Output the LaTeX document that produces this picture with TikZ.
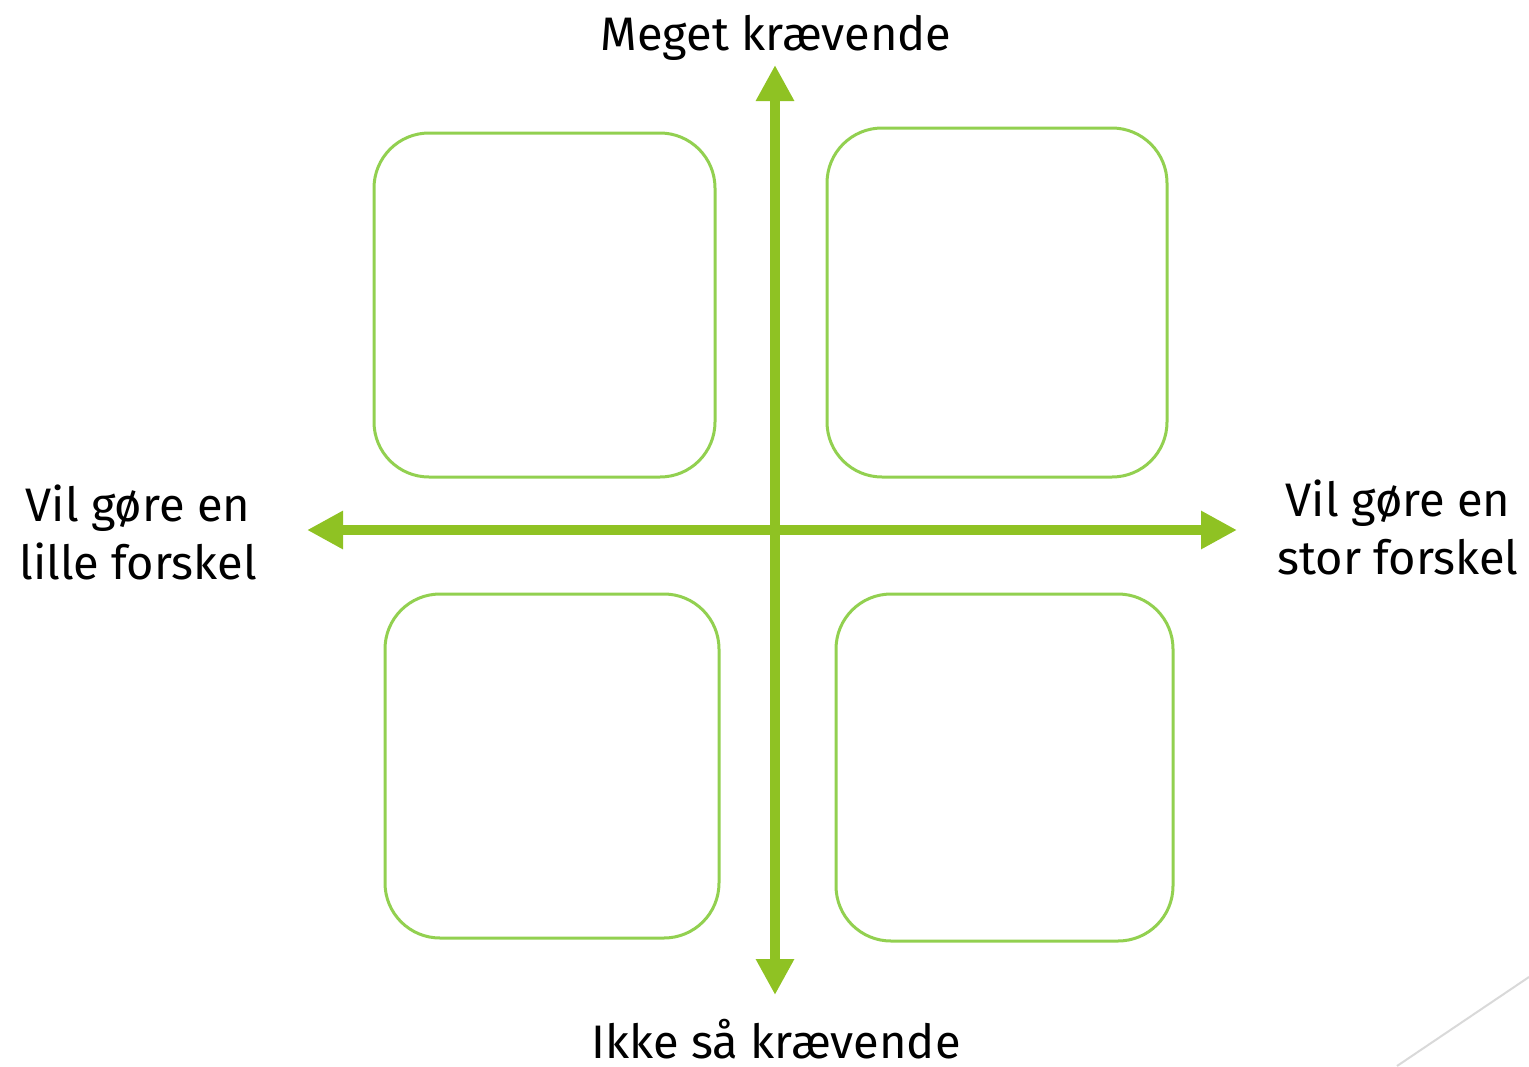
\documentclass[tikz,border=0pt]{standalone}
\usepackage{fontspec}
\setmainfont{Fira Sans}
\usetikzlibrary{arrows.meta}
\definecolor{axisgreen}{RGB}{143,194,35}
\definecolor{boxgreen}{RGB}{146,208,80}
\definecolor{deco}{RGB}{217,217,217}
\tikzset{
  qbox/.style={draw=boxgreen, line width=3pt, rounded corners=55pt},
  axis/.style={draw=axisgreen, line width=10pt, -{Triangle[length=36pt,width=36pt]}},
  lbl/.style={font=\fontsize{47}{58}\selectfont, align=center, inner sep=0pt}
}
\begin{document}
\begin{tikzpicture}[x=1pt,y=-1pt]
\useasboundingbox (0,0) rectangle (1529,1066);
% boxes
\draw[qbox] (374,133) rectangle (715,477);
\draw[qbox] (827,128) rectangle (1167,477);
\draw[qbox] (385,594) rectangle (719,938);
\draw[qbox] (836,594) rectangle (1173,941);
% axis anchor points
\coordinate (c) at (775,530);
\coordinate (top) at (775,65);
\coordinate (bot) at (775,995);
\coordinate (lft) at (307,530);
\coordinate (rgt) at (1237,530);
\draw[axis] (c) -- (top);
\draw[axis] (c) -- (bot);
\draw[axis] (c) -- (lft);
\draw[axis] (c) -- (rgt);
% labels
\node[lbl, anchor=base] (tl) at (776,50) {Meget krævende};
\node[lbl, anchor=base] (bl) at (776,1058) {Ikke så krævende};
\node[lbl] (ll) at (138,532) {Vil gøre en\\lille forskel};
\node[lbl] (rl) at (1398,527) {Vil gøre en\\stor forskel};
% decoration
\coordinate (d1) at (1397,1066);
\coordinate (d2) at (1529,977);
\draw[deco, line width=2pt] (d1) -- (d2);
\end{tikzpicture}
\end{document}
